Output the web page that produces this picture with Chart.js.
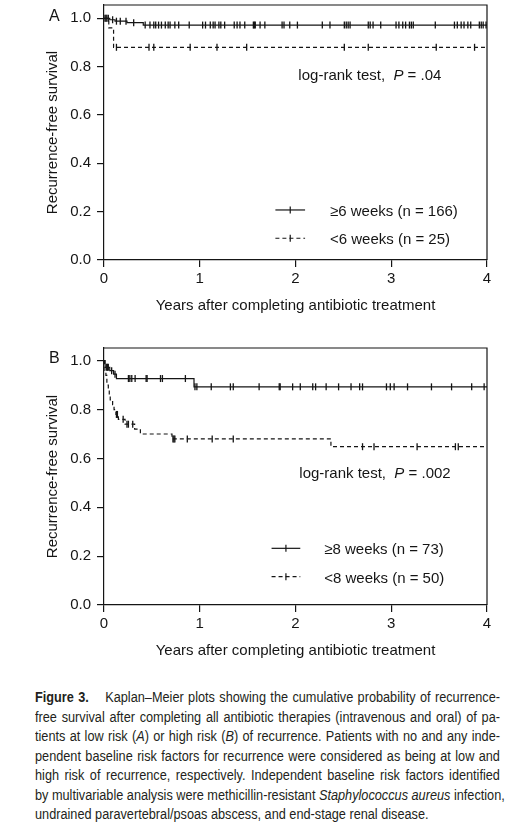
<!DOCTYPE html>
<html>
<head>
<meta charset="utf-8">
<script src="https://cdn.jsdelivr.net/npm/chart.js@4.4.0/dist/chart.umd.min.js"></script>
<style>
html,body{margin:0;padding:0;background:#fff;width:522px;height:837px;overflow:hidden}
#wrapA{position:absolute;left:0;top:0;width:522px;height:315px}
#wrapB{position:absolute;left:0;top:343px;width:522px;height:317px}
#cap{position:absolute;left:35px;top:687px;width:567px;transform:scaleX(0.82);transform-origin:0 0;font-family:"Liberation Sans",Arial,Helvetica,sans-serif;font-size:15.5px;line-height:19.5px;color:#231f20}
#cap div{text-align:justify;text-align-last:justify;white-space:nowrap}
#cap div.last{text-align:left;text-align-last:left}
</style>
</head>
<body>
<div id="wrapA"><canvas id="chartA" width="522" height="315"></canvas></div>
<div id="wrapB"><canvas id="chartB" width="522" height="317"></canvas></div>
<div id="cap">
<div><b>Figure 3.</b><span style="display:inline-block;width:20px"></span>Kaplan–Meier plots showing the cumulative probability of recurrence-</div>
<div>free survival after completing all antibiotic therapies (intravenous and oral) of pa-</div>
<div>tients at low risk (<i>A</i>) or high risk (<i>B</i>) of recurrence. Patients with no and any inde-</div>
<div>pendent baseline risk factors for recurrence were considered as being at low and</div>
<div>high risk of recurrence, respectively. Independent baseline risk factors identified</div>
<div>by multivariable analysis were methicillin-resistant <i>Staphylococcus aureus</i> infection,</div>
<div class="last">undrained paravertebral/psoas abscess, and end-stage renal disease.</div>
</div>
<script>
// ---------- tick labels ----------
const xTicks = [0, 1, 2, 3, 4];
const yTicks = [0, 0.2, 0.4, 0.6, 0.8, 1.0];
const xTitle = 'Years after completing antibiotic treatment';
const yTitle = 'Recurrence-free survival';

// ---------- Panel A (low risk) ----------
const aLongLabel = '≥6 weeks (n = 166)';
const aLongTimes = [0, 0.06, 0.115, 0.24, 0.41, 4];
const aLongSurv  = [1, 0.994, 0.988, 0.982, 0.972, 0.972];
const aLongCensor = [0.01, 0.02, 0.03, 0.045, 0.09, 0.13, 0.17, 0.23, 0.31, 0.43, 0.48, 0.52, 0.54, 0.57,
  0.60, 0.64, 0.67, 0.69, 0.74, 0.78, 0.89, 1.03, 1.06, 1.11, 1.14, 1.16, 1.20, 1.22, 1.26, 1.36, 1.39,
  1.42, 1.47, 1.56, 1.57, 1.58, 1.63, 1.68, 1.86, 1.88, 1.94, 2.02, 2.28, 2.36, 2.51, 2.53, 2.55, 2.57,
  2.76, 2.78, 2.81, 2.89, 3.05, 3.08, 3.12, 3.15, 3.19, 3.21, 3.23, 3.46, 3.66, 3.69, 3.73, 3.76, 3.80,
  3.83, 3.92, 3.94, 3.96, 3.99];
const aShortLabel = '<6 weeks (n = 25)';
const aShortTimes = [0, 0.05, 0.10, 4];
const aShortSurv  = [1, 0.96, 0.88, 0.88];
const aShortCensor = [0.13, 0.47, 0.52, 0.90, 1.18, 1.49, 2.51, 2.76, 3.47, 3.87];
const aPValue = '.04';

// ---------- Panel B (high risk) ----------
const bLongLabel = '≥8 weeks (n = 73)';
const bLongTimes = [0, 0.012, 0.06, 0.10, 0.13, 0.94, 4];
const bLongSurv  = [1, 0.973, 0.959, 0.945, 0.927, 0.893, 0.893];
const bLongCensor = [0.028, 0.035, 0.045, 0.08, 0.115, 0.255, 0.27, 0.29, 0.325, 0.44, 0.45, 0.59, 0.61,
  0.85, 0.95, 0.97, 1.12, 1.32, 1.35, 1.62, 1.83, 1.84, 1.97, 2.05, 2.18, 2.21, 2.32, 2.45, 2.58, 2.67,
  2.70, 2.95, 2.99, 3.03, 3.17, 3.42, 3.63, 3.84, 3.97];
const bShortLabel = '<8 weeks (n = 50)';
const bShortTimes = [0, 0.005, 0.01, 0.02, 0.03, 0.045, 0.055, 0.065, 0.09, 0.105, 0.125, 0.15, 0.22,
  0.32, 0.38, 0.71, 2.37, 4];
const bShortSurv  = [1, 0.98, 0.96, 0.94, 0.90, 0.88, 0.86, 0.84, 0.82, 0.80, 0.78, 0.76, 0.74,
  0.72, 0.70, 0.68, 0.648, 0.648];
const bShortCensor = [0.13, 0.14, 0.20, 0.24, 0.255, 0.30, 0.72, 0.73, 0.74, 0.87, 1.13, 1.35, 2.70,
  2.82, 3.27, 3.67, 3.70];
const bPValue = '.002';

// ---------- helpers ----------
const INK = '#151515';
const FONT = '"Liberation Sans", Arial, Helvetica, sans-serif';
Chart.defaults.font.family = FONT;
Chart.defaults.color = INK;

function curve(times, surv) { return times.map((t, i) => ({ x: t, y: surv[i] })); }
function survAt(times, surv, t) {
  let s = surv[0];
  for (let i = 0; i < times.length; i++) if (times[i] <= t) s = surv[i];
  return s;
}
function marks(times, surv, cens) { return cens.map(t => ({ x: t, y: survAt(times, surv, t) })); }

const DASH = [4, 3];
function curveDs(times, surv, dashed) {
  return { data: curve(times, surv), showLine: true, stepped: true, borderColor: INK, borderWidth: 1.2,
    borderDash: dashed ? DASH : [], pointRadius: 0, pointHoverRadius: 0, fill: false };
}
function censorDs(times, surv, cens) {
  return { data: marks(times, surv, cens), showLine: false, pointStyle: 'line', pointRotation: 90,
    pointRadius: 3.5, pointHoverRadius: 3.5, pointBorderColor: INK, pointBorderWidth: 1.3,
    pointBackgroundColor: INK };
}

const kmDecor = {
  id: 'kmDecor',
  afterDraw(chart, args, o) {
    const ctx = chart.ctx, ca = chart.chartArea;
    const xs = chart.scales.x, ys = chart.scales.y;
    ctx.save();
    ctx.strokeStyle = INK; ctx.lineWidth = 1.2; ctx.setLineDash([]);
    ctx.beginPath();
    ctx.moveTo(ca.left, ca.top); ctx.lineTo(ca.right, ca.top); ctx.lineTo(ca.right, ca.bottom);
    ctx.stroke();
    ctx.fillStyle = INK;
    ctx.font = '16px ' + FONT; ctx.textAlign = 'left'; ctx.textBaseline = 'alphabetic';
    ctx.fillText(o.panel, 49, ys.getPixelForValue(1.0) + 2.5);
    ctx.font = '15px ' + FONT;
    let lx = xs.getPixelForValue(o.logX), ly = ys.getPixelForValue(o.logY);
    const seg1 = 'log-rank test,  ';
    ctx.fillText(seg1, lx, ly); lx += ctx.measureText(seg1).width;
    ctx.font = 'italic 15px ' + FONT;
    ctx.fillText('P', lx, ly); lx += ctx.measureText('P').width;
    ctx.font = '15px ' + FONT;
    ctx.fillText(' = ' + o.p, lx, ly);
    o.legend.forEach(item => {
      const x0 = xs.getPixelForValue(o.legX0), x1 = xs.getPixelForValue(o.legX1);
      const xt = xs.getPixelForValue(o.legXT), xtext = xs.getPixelForValue(o.legXText);
      const y = ys.getPixelForValue(item.y);
      ctx.lineWidth = 1.2; ctx.strokeStyle = INK;
      ctx.setLineDash(item.dashed ? DASH : []);
      ctx.beginPath(); ctx.moveTo(x0, y); ctx.lineTo(x1, y); ctx.stroke();
      ctx.setLineDash([]);
      ctx.beginPath(); ctx.moveTo(xt, y - 3.5); ctx.lineTo(xt, y + 3.5); ctx.stroke();
      ctx.font = '15px ' + FONT;
      ctx.fillText(item.label, xtext, y + 6);
    });
    ctx.restore();
  }
};

function makeChart(id, datasets, yMax, decor) {
  return new Chart(document.getElementById(id), {
    type: 'scatter',
    data: { datasets },
    plugins: [kmDecor],
    options: {
      responsive: false, animation: false, devicePixelRatio: 1,
      layout: { padding: { left: 44, right: 35, top: 5, bottom: 0 } },
      plugins: { legend: { display: false }, tooltip: { enabled: false }, kmDecor: decor },
      scales: {
        x: {
          type: 'linear', position: 'bottom', min: 0, max: 4,
          afterBuildTicks: s => { s.ticks = xTicks.map(v => ({ value: v })); },
          afterFit: s => { s.height = 55; s.paddingLeft = 0; s.paddingRight = 0; },
          ticks: { font: { size: 15 }, color: INK, padding: 3, maxRotation: 0, callback: v => String(v) },
          grid: { drawOnChartArea: false, drawTicks: true, tickLength: 7, color: INK, lineWidth: 1.2 },
          border: { display: true, color: INK, width: 1.2 },
          title: { display: true, text: xTitle, font: { size: 15 }, color: INK, padding: 0 }
        },
        y: {
          type: 'linear', position: 'left', min: 0, max: yMax,
          afterBuildTicks: s => { s.ticks = yTicks.map(v => ({ value: v })); },
          afterFit: s => { s.width = 60; s.paddingTop = 0; s.paddingBottom = 0; },
          ticks: { font: { size: 15 }, color: INK, padding: 6, callback: v => Number(v).toFixed(1) },
          grid: { drawOnChartArea: false, drawTicks: true, tickLength: 7, color: INK, lineWidth: 1.2 },
          border: { display: true, color: INK, width: 1.2 },
          title: { display: true, text: yTitle, font: { size: 15 }, color: INK, padding: 0 }
        }
      }
    }
  });
}

makeChart('chartA', [
  curveDs(aLongTimes, aLongSurv, false),
  censorDs(aLongTimes, aLongSurv, aLongCensor),
  curveDs(aShortTimes, aShortSurv, true),
  censorDs(aShortTimes, aShortSurv, aShortCensor)
], 1.055, {
  panel: 'A', p: aPValue, logX: 2.03, logY: 0.745,
  legX0: 1.79, legX1: 2.10, legXT: 1.945, legXText: 2.36,
  legend: [{ label: aLongLabel, y: 0.207, dashed: false }, { label: aShortLabel, y: 0.09, dashed: true }]
});

makeChart('chartB', [
  curveDs(bLongTimes, bLongSurv, false),
  censorDs(bLongTimes, bLongSurv, bLongCensor),
  curveDs(bShortTimes, bShortSurv, true),
  censorDs(bShortTimes, bShortSurv, bShortCensor)
], 1.052, {
  panel: 'B', p: bPValue, logX: 2.04, logY: 0.52,
  legX0: 1.75, legX1: 2.05, legXT: 1.90, legXText: 2.30,
  legend: [{ label: bLongLabel, y: 0.232, dashed: false }, { label: bShortLabel, y: 0.116, dashed: true }]
});
</script>
</body>
</html>
